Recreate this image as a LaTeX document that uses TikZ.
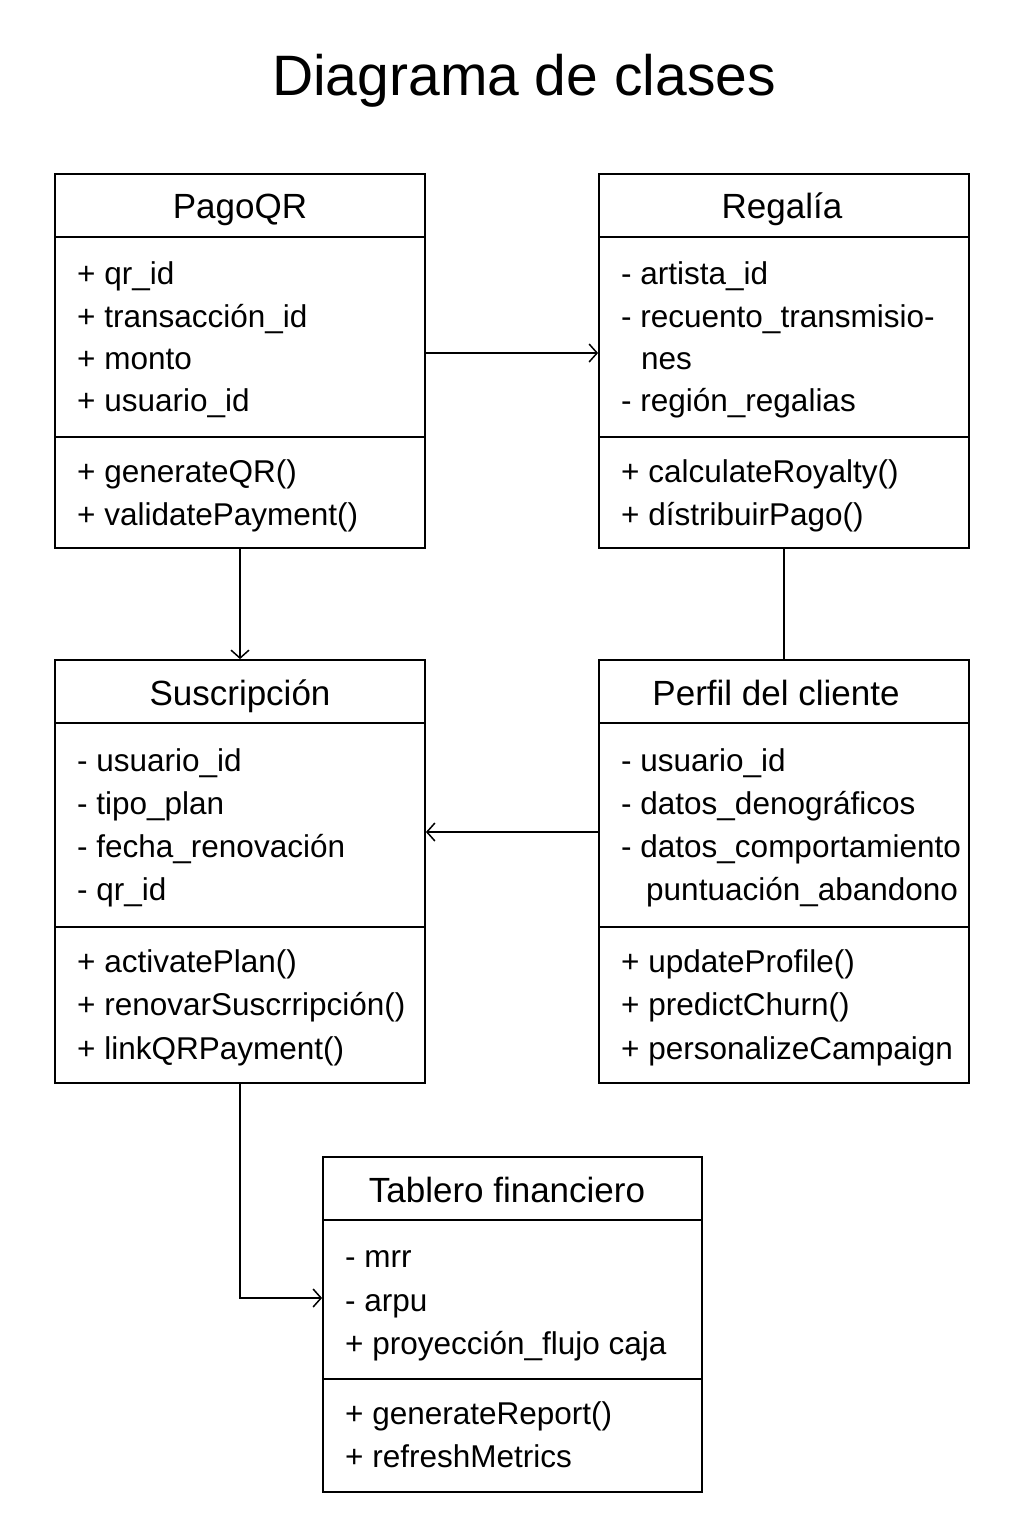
\documentclass[tikz,border=0pt]{standalone}
\usepackage{fontspec}
\setmainfont{Liberation Sans}
\usetikzlibrary{arrows.meta}
\begin{document}
\begin{tikzpicture}[x=1pt,y=-1pt,
  cls/.style={draw=black, line width=1.8pt, inner sep=0pt},
  sep/.style={line width=1.8pt},
  hd/.style={font=\fontsize{35}{40}\selectfont, anchor=base, inner sep=0pt},
  it/.style={font=\fontsize{31.5}{37}\selectfont, anchor=base west, inner sep=0pt},
  arr/.style={line width=1.5pt, -{Straight Barb[length=8pt,width=18pt,line width=1.5pt]}},
  lk/.style={line width=1.5pt}]
\useasboundingbox (0,0) rectangle (1024,1536);
\fill[white] (0,0) rectangle (1024,1536);
\node[font=\fontsize{57}{64}\selectfont, inner sep=0pt, anchor=base] (title) at (524,96) {Diagrama de clases};

% boxes
\node[cls, minimum width=370pt, minimum height=374pt] (pago) at (240,361) {};
\node[cls, minimum width=370pt, minimum height=374pt] (rega) at (784,361) {};
\node[cls, minimum width=370pt, minimum height=423pt] (susc) at (240,871.5) {};
\node[cls, minimum width=370pt, minimum height=423pt] (perf) at (784,871.5) {};
\node[cls, minimum width=379pt, minimum height=335pt] (tabl) at (512.5,1324.5) {};

% dividers
\draw[sep] (pago.west |- 0,237) -- (pago.east |- 0,237);
\draw[sep] (pago.west |- 0,437) -- (pago.east |- 0,437);
\draw[sep] (rega.west |- 0,237) -- (rega.east |- 0,237);
\draw[sep] (rega.west |- 0,437) -- (rega.east |- 0,437);
\draw[sep] (susc.west |- 0,723) -- (susc.east |- 0,723);
\draw[sep] (susc.west |- 0,927) -- (susc.east |- 0,927);
\draw[sep] (perf.west |- 0,723) -- (perf.east |- 0,723);
\draw[sep] (perf.west |- 0,927) -- (perf.east |- 0,927);
\draw[sep] (tabl.west |- 0,1220) -- (tabl.east |- 0,1220);
\draw[sep] (tabl.west |- 0,1379) -- (tabl.east |- 0,1379);

% PagoQR
\node[hd] (pagoH) at (240,218) {PagoQR};
\node[it] (pa1) at (77,284) {+ qr\_id};
\node[it] (pa2) at (77,327) {+ transacción\_id};
\node[it] (pa3) at (77,369) {+ monto};
\node[it] (pa4) at (77,411) {+ usuario\_id};
\node[it] (pm1) at (77,482) {+ generateQR()};
\node[it] (pm2) at (77,525) {+ validatePayment()};

% Regalia
\node[hd] (regaH) at (782,218) {Regalía};
\node[it] (ra1) at (621,284) {- artista\_id};
\node[it] (ra2) at (621,327) {- recuento\_transmisio-};
\node[it] (ra3) at (641,369) {nes};
\node[it] (ra4) at (621,411) {- región\_regalias};
\node[it] (rm1) at (621,482) {+ calculateRoyalty()};
\node[it] (rm2) at (621,525) {+ dístribuirPago()};

% Suscripcion
\node[hd] (suscH) at (240,705) {Suscripción};
\node[it] (sa1) at (77,771) {- usuario\_id};
\node[it] (sa2) at (77,814) {- tipo\_plan};
\node[it] (sa3) at (77,857) {- fecha\_renovación};
\node[it] (sa4) at (77,900) {- qr\_id};
\node[it] (sm1) at (77,972) {+ activatePlan()};
\node[it] (sm2) at (77,1015) {+ renovarSuscrripción()};
\node[it] (sm3) at (77,1059) {+ linkQRPayment()};

% Perfil
\node[hd] (perfH) at (776,705) {Perfil del cliente};
\node[it] (fa1) at (621,771) {- usuario\_id};
\node[it] (fa2) at (621,814) {- datos\_denográficos};
\node[it] (fa3) at (621,857) {- datos\_comportamiento};
\node[it] (fa4) at (646,900) {puntuación\_abandono};
\node[it] (fm1) at (621,972) {+ updateProfile()};
\node[it] (fm2) at (621,1015) {+ predictChurn()};
\node[it] (fm3) at (621,1059) {+ personalizeCampaign};

% Tablero
\node[hd] (tablH) at (507,1202) {Tablero financiero};
\node[it] (ta1) at (345,1267) {- mrr};
\node[it] (ta2) at (345,1311) {- arpu};
\node[it] (ta3) at (345,1354) {+ proyección\_flujo caja};
\node[it] (tm1) at (345,1424) {+ generateReport()};
\node[it] (tm2) at (345,1467) {+ refreshMetrics};

% connectors
\draw[arr] (pago.east |- 0,353) -- (rega.west |- 0,353);
\draw[arr] (pago.south) -- (susc.north);
\draw[lk] (rega.south) -- (perf.north);
\draw[arr] (perf.west |- 0,832) -- (susc.east |- 0,832);
\draw[arr] (susc.south) |- (tabl.west |- 0,1298);
\end{tikzpicture}
\end{document}
